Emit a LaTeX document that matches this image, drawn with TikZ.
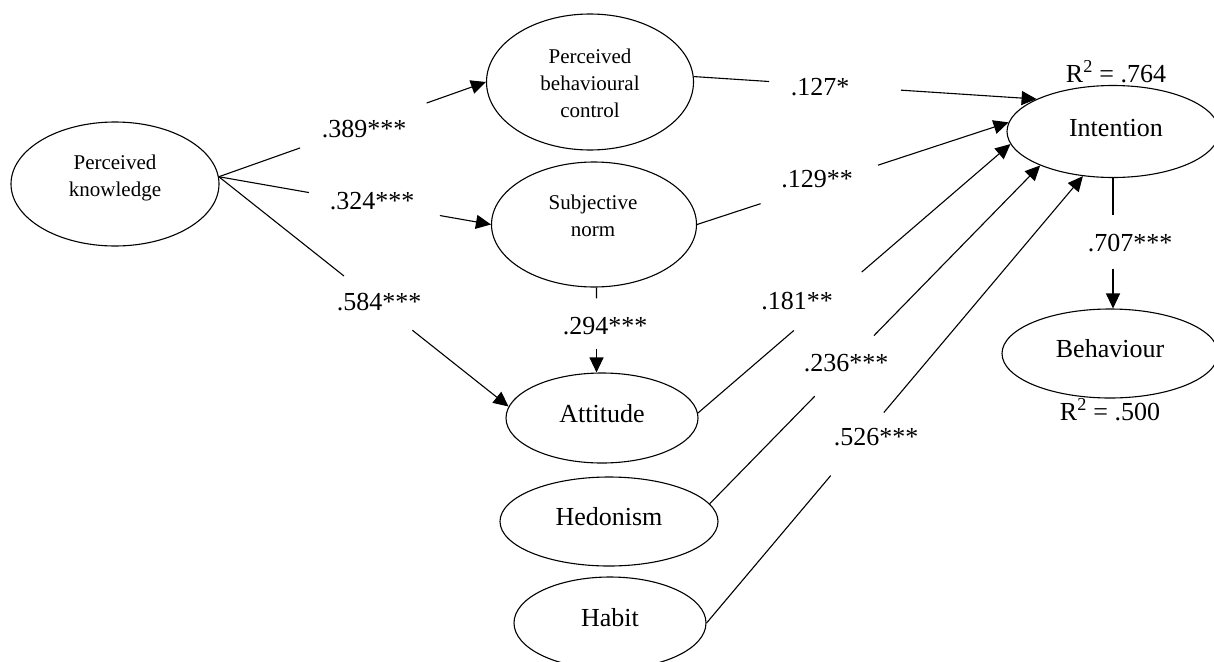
\documentclass[tikz,border=0pt]{standalone}
\usepackage{fontspec}
\setmainfont{Liberation Serif}
\usetikzlibrary{arrows.meta,calc,shapes.geometric}
\tikzset{
  ell/.style={draw, ellipse, line width=1.1pt, inner sep=0pt},
  bigtxt/.style={font=\fontsize{26}{31}\selectfont, inner sep=0pt},
  smalltxt/.style={font=\fontsize{21}{27}\selectfont, inner sep=0pt, align=center},
  lbl/.style={font=\fontsize{26}{31}\selectfont, inner sep=0pt},
  con/.style={line width=1.1pt},
  arr/.style={line width=1.1pt, -{Triangle[length=15pt,width=14pt]}},
}
\begin{document}
\begin{tikzpicture}[x=1pt,y=-1pt]
\useasboundingbox (0,0) rectangle (1214,661);
% ellipses
\node[ell, minimum width=208pt, minimum height=124pt] (pk) at (115,184) {};
\node[ell, minimum width=207pt, minimum height=136pt] (pbc) at (590,82) {};
\node[ell, minimum width=205pt, minimum height=125pt] (sn) at (594,224.5) {};
\node[ell, minimum width=192pt, minimum height=90pt] (att) at (602,418) {};
\node[ell, minimum width=218pt, minimum height=89pt] (hed) at (609,521.5) {};
\node[ell, minimum width=192pt, minimum height=92pt] (hab) at (610,623) {};
\node[ell, minimum width=212pt, minimum height=92pt] (int) at (1113,131.5) {};
\node[ell, minimum width=216pt, minimum height=89pt] (beh) at (1110,353.5) {};
% texts
\node[smalltxt] (pkt) at (115,178) {Perceived\\knowledge};
\node[smalltxt] (pbct) at (590,83) {Perceived\\behavioural\\control};
\node[smalltxt] (snt) at (593,216) {Subjective\\norm};
\node[bigtxt, anchor=base] (attt) at (602,422) {Attitude};
\node[bigtxt, anchor=base] (hedt) at (609,525) {Hedonism};
\node[bigtxt, anchor=base] (habt) at (610,626) {Habit};
\node[bigtxt, anchor=base] (intt) at (1116,136) {Intention};
\node[bigtxt, anchor=base] (beht) at (1110,357) {Behaviour};
\node[bigtxt, anchor=base] (r1) at (1116,82) {R\textsuperscript{2} = .764};
\node[bigtxt, anchor=base] (r2) at (1110,420) {R\textsuperscript{2} = .500};
% labels
\node[lbl] (l1) at (364,129) {.389***};
\node[lbl] (l2) at (372,201) {.324***};
\node[lbl] (l3) at (379,302) {.584***};
\node[lbl] (l4) at (605,326) {.294***};
\node[lbl] (l5) at (820,87) {.127*};
\node[lbl] (l6) at (817,179) {.129**};
\node[lbl] (l7) at (797,301) {.181**};
\node[lbl] (l8) at (846,363) {.236***};
\node[lbl] (l9) at (876,437) {.526***};
\node[lbl] (l10) at (1130,243) {.707***};
% connectors
\coordinate (pkout) at (pk.4);
% PK -> PBC
\draw[con] (pkout) -- ($(pkout)!0.304!(pbc.west)$);
\draw[arr] ($(pkout)!0.778!(pbc.west)$) -- (pbc.west);
% PK -> SN
\draw[con] (pkout) -- ($(pkout)!0.331!(sn.west)$);
\draw[arr] ($(pkout)!0.8125!(sn.west)$) -- (sn.west);
% PK -> Att
\draw[con] (pkout) -- ($(pkout)!0.432!(att.173)$);
\draw[arr] ($(pkout)!0.668!(att.173)$) -- (att.173);
% SN -> Att
\coordinate (snbot) at ($(sn.south)+(2.5,0)$);
\coordinate (snatt) at (snbot |- att.north);
\draw[con] (snbot) -- ($(snbot)!0.128!(snatt)$);
\draw[arr] ($(snbot)!0.72!(snatt)$) -- (snatt);
% PBC -> Int
\draw[con] (pbc.3) -- ($(pbc.3)!0.22!(int.157)$);
\draw[arr] ($(pbc.3)!0.604!(int.157)$) -- (int.157);
% SN -> Int
\draw[con] (sn.east) -- ($(sn.east)!0.204!(int.175)$);
\draw[arr] ($(sn.east)!0.581!(int.175)$) -- (int.175);
% Att -> Int
\draw[con] (att.3) -- ($(att.3)!0.307!(int.187)$);
\draw[arr] ($(att.3)!0.524!(int.187)$) -- (int.187);
% Hed -> Int
\draw[con] (hed.10) -- ($(hed.10)!0.318!(int.205)$);
\draw[arr] ($(hed.10)!0.497!(int.205)$) -- (int.205);
% Hab -> Int
\draw[con] (hab.east) -- ($(hab.east)!0.33!(int.236)$);
\draw[arr] ($(hab.east)!0.471!(int.236)$) -- (int.236);
% Int -> Beh
\coordinate (intbeh) at (int.south |- beh.north);
\draw[con] (int.south) -- ($(int.south)!0.28!(intbeh)$);
\draw[arr] ($(int.south)!0.695!(intbeh)$) -- (intbeh);
\end{tikzpicture}
\end{document}
